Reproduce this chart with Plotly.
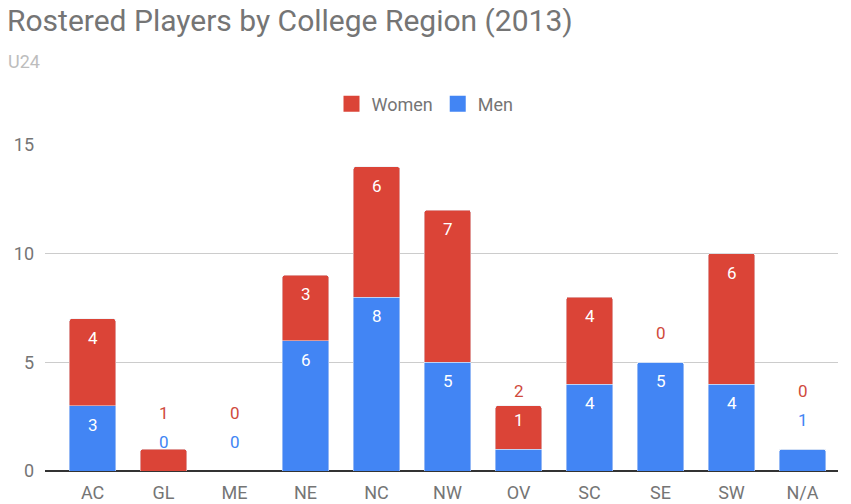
import plotly.graph_objects as go

# Rostered players by college region, U24, 2013
regions = ["AC", "GL", "ME", "NE", "NC", "NW", "OV", "SC", "SE", "SW", "N/A"]
men = [3, 0, 0, 6, 8, 5, 1, 4, 5, 4, 1]
women = [4, 1, 0, 3, 6, 7, 2, 4, 0, 6, 0]
y_ticks = [0, 5, 10, 15]

BLUE = "#4285F4"
RED = "#DB4437"
FONT = "Roboto"

# the page body has an 8px margin, so the figure is a bit smaller than the window
PAGE = 8
W, H = 851 - PAGE, 504 - PAGE
M_T, M_B, M_L, M_R = 145 - PAGE, 33, 45 - PAGE, 13
y_max = 15
plot_h = H - M_T - M_B
plot_w = W - M_L - M_R
ppu = plot_h / y_max  # pixels per unit on the y axis


def px_to_paper(sx, sy):
    # window pixel -> paper coords
    return (sx - PAGE - M_L) / plot_w, (504 - M_B - sy) / plot_h


fig = go.Figure()
fig.add_trace(go.Bar(x=regions, y=men, name="Men", marker_color=BLUE, showlegend=False))
fig.add_trace(go.Bar(x=regions, y=women, name="Women", marker_color=RED, showlegend=False))

# bigger square swatches for the legend than plotly's bar swatch
for name, col in [("Men", BLUE), ("Women", RED)]:
    fig.add_trace(go.Scatter(x=[regions[0]], y=[None], mode="markers", name=name,
                             marker=dict(symbol="square", size=16, color=col, line_width=0)))

# value labels: white inside the bar top when the segment is tall enough,
# otherwise coloured and stacked above (like the sheets chart does it)
annos = []
for r, m, w in zip(regions, men, women):
    if m >= 2:
        annos.append(dict(x=r, y=m, yshift=-19, text=str(m), font=dict(color="white")))
        men_px = m * ppu - 19
    else:
        men_px = m * ppu + 29
        col = "white" if w > 0 and men_px < (m + w) * ppu else BLUE
        annos.append(dict(x=r, y=m, yshift=29, text=str(m), font=dict(color=col)))
    top = m + w
    if w >= 3:
        annos.append(dict(x=r, y=top, yshift=-19, text=str(w), font=dict(color="white")))
    else:
        off = 29 if w == 0 else 15
        px = max(top * ppu + off, men_px + 29)
        annos.append(dict(x=r, y=top, yshift=px - top * ppu, text=str(w),
                          font=dict(color="#D04A3C")))
for a in annos:
    a.update(showarrow=False, xref="x", yref="y", yanchor="middle")
    a["font"].update(family=FONT, size=17)

# title and subtitle as paper annotations
tx, ty = px_to_paper(5, 21)
annos.append(dict(text="Rostered Players by College Region (2013)", x=tx, y=ty,
                  xref="paper", yref="paper", xanchor="left", yanchor="middle",
                  showarrow=False, font=dict(family=FONT, size=30, color="#757575")))
sx, sy = px_to_paper(6, 62)
annos.append(dict(text="U24", x=sx, y=sy, xref="paper", yref="paper",
                  xanchor="left", yanchor="middle", showarrow=False,
                  font=dict(family=FONT, size=18, color="#BDBDBD")))

fig.update_layout(
    width=W, height=H,
    margin=dict(t=M_T, b=M_B, l=M_L, r=M_R, autoexpand=False),
    barmode="stack",
    bargap=0.35,
    barcornerradius=2,
    plot_bgcolor="white",
    paper_bgcolor="white",
    font=dict(family=FONT, size=18, color="#757575"),
    legend=dict(orientation="h", x=(425 - PAGE) / W, xanchor="center", xref="container",
                y=1 - (104 - PAGE) / H, yanchor="middle", yref="container",
                traceorder="reversed", itemclick=False,
                font=dict(size=18, color="#757575")),
    annotations=annos,
)
fig.update_xaxes(range=[-0.67, 10.5], showgrid=False, showline=False, zeroline=False,
                 automargin=False, ticklabelstandoff=9)
fig.update_yaxes(range=[0, y_max], tickvals=y_ticks, gridcolor="#CCCCCC", gridwidth=1,
                 zeroline=True, zerolinecolor="#333333", zerolinewidth=2,
                 automargin=False, ticklabelstandoff=10)

fig.write_html("out.html")
